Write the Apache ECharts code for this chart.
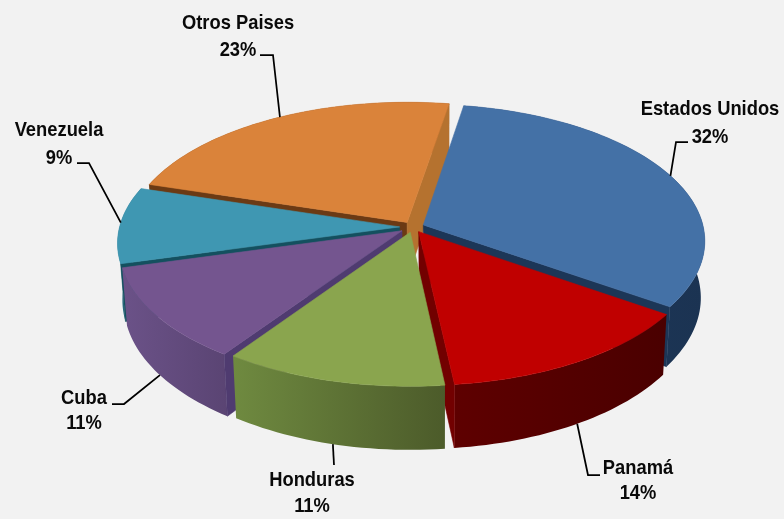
<!DOCTYPE html>
<html><head><meta charset="utf-8">
<style>html,body{margin:0;padding:0;background:#f2f2f2}#c{width:784px;height:519px}</style>
<script src="https://cdn.jsdelivr.net/npm/echarts@6/dist/echarts.min.js"></script>
</head><body><div id="c"></div>
<script>
// ---- data (shares; labels show them rounded) ----
const countries = ['Estados Unidos','Panamá','Honduras','Cuba','Venezuela','Otros Paises'];
const shares = [32, 13.6, 11.4, 11.1, 9.0, 22.9];

// ---- styles ----
const topColors  = ['#4471A6','#C00000','#8AA54E','#74558F','#3F97B2','#DA833A'];
const wallFrom   = ['#1F3A5C','#5E0000','#6F8A40','#6B5288','#2B6F84','#6B3A14'];
const wallTo     = ['#1B3352','#4A0000','#4C5B2A','#5A4473','#245F72','#6B3A14'];
const startFace  = ['#1C3657','#7A0000','#56692F','#4F3B70','#14505F','#6B3A14'];
const endFace    = ['#1C3657','#720000','#56692F','#4F3B70','#14505F','#B5722F'];
const explode    = [0.04,0.04,0.04,0.048,0.048,0.04];
const paintOrder = [5,0,4,3,1,2];
// label block: centre x, line 1 y, line 2 y, leader elbow points, leader angle nudge
const labelPos = [
  {x:710,y1:108,y2:136,leader:[[688,142],[676,142]],nudge:0.5},
  {x:638,y1:467,y2:492,leader:[[600,475],[588,475]],nudge:0},
  {x:312,y1:479,y2:505,leader:[[334,465]],nudge:0.2},
  {x:84, y1:397,y2:422,leader:[[112,404],[124,404]],nudge:0},
  {x:59, y1:129,y2:157,leader:[[77,163],[89,163]],nudge:1},
  {x:238,y1:22, y2:49, leader:[[260,55],[273,55]],nudge:1.5}
];

// ---- projection of the tilted pie ----
const CX=413, CY=227, A=280, B=135, K=0.115, H=56, VX=440, SHRINK=0.985, START=9.5;
const total = shares.reduce((a,b)=>a+b,0);
const rad = d=>d*Math.PI/180;
let acc = START;
const spans = shares.map(s=>{const a=acc; acc+=s/total*360; return [a,acc];});

function project(U,V){const w=1-K*V; return [CX+A*U/w, CY+B*V/w, w];}
function lower(p){return [VX+(p[0]-VX)*SHRINK, p[1]+H/p[2], p[2]];}
function point(i,r,deg){
  const mid=(spans[i][0]+spans[i][1])/2;
  return project(explode[i]*Math.sin(rad(mid))+r*Math.sin(rad(deg)),
                 -explode[i]*Math.cos(rad(mid))-r*Math.cos(rad(deg)));
}
const xy=p=>[p[0],p[1]];

function poly(points,fill){
  return {type:'polygon',shape:{points},style:{fill,stroke:fill.colorStops?null:fill,lineWidth:0.6}};
}
// a cut face shows only if the wall hanging below the edge falls outside the slice's top
function faceShows(apex,edge,other){
  const ex=edge[0]-apex[0], ey=edge[1]-apex[1];
  const down=ex*1;
  const inner=ex*(other[1]-apex[1])-ey*(other[0]-apex[0]);
  return down*inner<0;
}
function renderSlice(params,api){
  const i=api.value(1);
  const [a,b]=spans[i];
  const apex=point(i,0,a), rim=[];
  const n=Math.max(6,Math.round((b-a)/1.5));
  for(let k=0;k<=n;k++) rim.push(point(i,1,a+(b-a)*k/n));
  const apexLow=lower(apex), rimLow=rim.map(lower);
  const wallFill=new echarts.graphic.LinearGradient(0,0,1,0,[
    {offset:0,color:wallFrom[i]},{offset:1,color:wallTo[i]}]);
  const children=[poly(rim.map(xy).concat(rimLow.slice().reverse().map(xy)),wallFill)];
  if(faceShows(apex,rim[0],rim[n>>1])) children.push(poly([xy(apex),xy(rim[0]),xy(rimLow[0]),xy(apexLow)],startFace[i]));
  if(faceShows(apex,rim[n],rim[n>>1])) children.push(poly([xy(apex),xy(rim[n]),xy(rimLow[n]),xy(apexLow)],endFace[i]));
  children.push(poly([xy(apex)].concat(rim.map(xy)),topColors[i]));
  return {type:'group',children};
}
function renderLabel(params,api){
  const i=api.value(1), pos=labelPos[i];
  const mid=(spans[i][0]+spans[i][1])/2;
  let end=point(i,1,mid+pos.nudge);
  if(-Math.cos(rad(mid))>0.3) end=lower(end);
  const font='bold 20.5px "Liberation Sans", Arial, sans-serif';
  const text=(t,y)=>({type:'text',x:pos.x,y:y+1.5,scaleX:0.895,style:{text:t,font,fill:'#0a0a0a',align:'center',verticalAlign:'middle'}});
  return {type:'group',children:[
    {type:'polyline',shape:{points:pos.leader.concat([xy(end)])},style:{stroke:'#000',lineWidth:1.75,fill:null}},
    text(countries[i],pos.y1),
    text(Math.round(shares[i])+'%',pos.y2)
  ]};
}
const sliceData=paintOrder.map(i=>[shares[i],i]);
const chart=echarts.init(document.getElementById('c'),null,{renderer:'canvas'});
chart.setOption({
  backgroundColor:'#f2f2f2',animation:false,
  series:[
    {type:'custom',coordinateSystem:'none',renderItem:renderSlice,data:sliceData,silent:true,z:1},
    {type:'custom',coordinateSystem:'none',renderItem:renderLabel,data:sliceData,silent:true,z:2}
  ]
});
</script></body></html>
